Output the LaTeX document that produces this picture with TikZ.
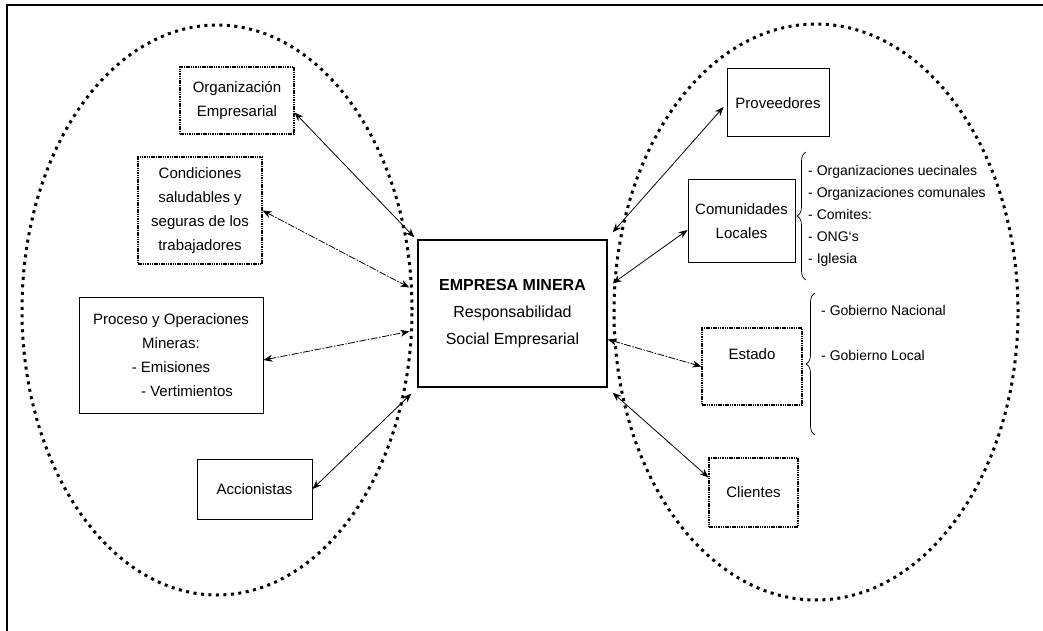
\documentclass[tikz,border=0pt]{standalone}
\usepackage{fontspec}
\setmainfont{Liberation Sans}
\usetikzlibrary{arrows.meta,decorations.pathreplacing}

\begin{document}
\begin{tikzpicture}[
	x=1pt, y=-1pt,
	stake/.style={
		rectangle,
		draw=black,
		line width=1pt,
		align=center,
		font=\fontsize{15}{24}\selectfont,
		inner sep=0pt
	},
	stakedot/.style={
		stake,
		line width=1.1pt,
		dash pattern=on 1.5pt off 0.8pt
	},
	core/.style={
		rectangle,
		draw=black,
		line width=1.3pt,
		align=center,
		font=\fontsize{16}{27}\selectfont,
		minimum width=189pt,
		minimum height=147pt
	},
	item/.style={
		anchor=west,
		inner sep=0pt,
		font=\fontsize{14}{22}\selectfont,
		text height=10pt,
		text depth=3pt
	},
	link/.style={
		<->,
		>={Stealth[length=9pt,width=7pt]},
		line width=0.8pt
	},
	linkdash/.style={
		link,
		dash pattern=on 7pt off 1.5pt on 1.5pt off 1.5pt
	},
	ring/.style={
		line width=3pt,
		dash pattern=on 3pt off 4.5pt
	},
	curly/.style={
		decorate,
		decoration={brace,amplitude=9pt},
		line width=0.7pt
	}
]
\useasboundingbox (0,0) rectangle (1043,631);

% Frame
\draw[line width=1.5pt] (7,631) -- (7,5) -- (1043,5);

% Groups
\draw[ring] (217,310) ellipse [x radius=195pt, y radius=285pt];
\draw[ring] (816,312) ellipse [x radius=202pt, y radius=288pt];

% Company
\node[core] (emp) at (512.5,313.5) {\textbf{EMPRESA MINERA}\\Responsabilidad\\Social Empresarial};

% Internal
\node[stakedot, minimum width=114pt, minimum height=67pt] (orgemp) at (237,100.5) {Organización\\Empresarial};
\node[stakedot, minimum width=124pt, minimum height=107pt] (cond) at (200,210.5) {Condiciones\\saludables y\\seguras de los\\trabajadores};
\node[stake, minimum width=184pt, minimum height=116pt] (proc) at (171,355) {Proceso y Operaciones\\Mineras:\\- Emisiones\\\hspace*{32pt}- Vertimientos};
\node[stake, minimum width=115pt, minimum height=60pt] (accion) at (254.5,489) {Accionistas};

% External
\node[stake, minimum width=102pt, minimum height=68pt] (prov) at (778,103) {Proveedores};
\node[stake, minimum width=107pt, minimum height=82pt] (comun) at (741.5,221) {Comunidades\\Locales};
\node[stakedot, minimum width=100pt, minimum height=77pt] (estado) at (752,366.5) {Estado\\~};
\node[stakedot, minimum width=89pt, minimum height=69pt] (clientes) at (753.5,492.5) {Clientes};

% Lists
\foreach \t [count=\i] in {Organizaciones uecinales, Organizaciones comunales, Comites:, ONG`s, Iglesia}
	\node[item] (com\i) at (808, 150+22*\i) {- \t};
\draw[curly] (806,280) -- (806,152);

\node[item] (gobnac) at (821,312) {- Gobierno Nacional};
\node[item] (gobloc) at (821,357) {- Gobierno Local};
\draw[curly] (815,435) -- (815,293);

% Connection Internal
\draw[link] ([yshift=-12pt]orgemp.east) -- ([xshift=-3pt,yshift=2pt]emp.north west);
\draw[linkdash] (cond.east) -- ([xshift=-8pt,yshift=26pt]emp.west);
\draw[linkdash] ([yshift=-5pt]proc.east) -- ([xshift=-8pt,yshift=-18pt]emp.west);
\draw[link] (accion.east) -- ([xshift=-6pt,yshift=-6pt]emp.south west);

% Connection External
\draw[link] ([xshift=5pt,yshift=7pt]emp.north east) -- ([xshift=-3pt,yshift=-4pt]prov.west);
\draw[link] ([xshift=5pt,yshift=30pt]emp.east) -- ([yshift=-9pt]comun.west);
\draw[linkdash] ([yshift=-26pt]emp.east) -- (estado.west);
\draw[link] ([xshift=5pt,yshift=-5pt]emp.south east) -- ([yshift=-20pt]clientes.north west);

\end{tikzpicture}
\end{document}
